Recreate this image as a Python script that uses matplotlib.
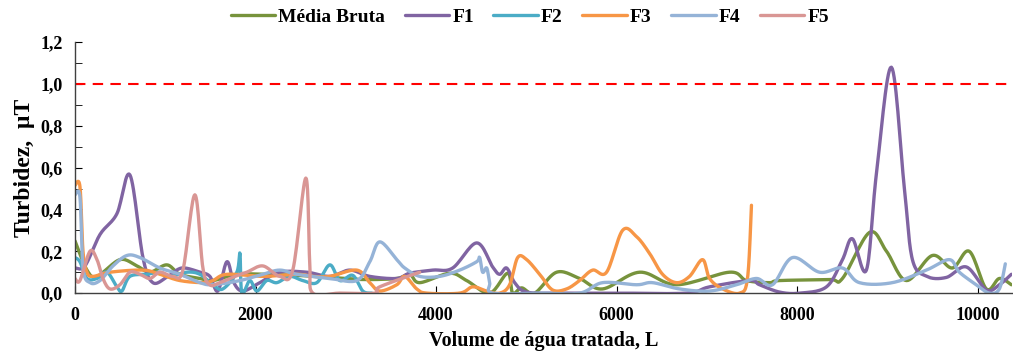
import numpy as np
import matplotlib
matplotlib.use("Agg")
import matplotlib.pyplot as plt
from matplotlib.ticker import MultipleLocator, FuncFormatter

plt.rcParams['font.family'] = ['Liberation Serif', 'DejaVu Serif']
plt.rcParams['font.weight'] = 'bold'

# values (volume in L, turbidity)
bruta_x = [0, 133, 244, 498, 686, 830, 1018, 1162, 1384, 1528, 1793, 2081, 2458, 2823, 3188,
           3565, 3708, 3819, 4151, 4339, 4594, 4793, 4849, 4948, 5092, 5336, 5590, 5845, 6255,
           6664, 7251, 7439, 7694, 7804, 8358, 8502, 8801, 8990, 9210, 9498, 9719, 9907, 10096,
           10240, 10373]
bruta_y = [0.25, 0.11, 0.08, 0.16, 0.13, 0.10, 0.135, 0.09, 0.07, 0.06, 0.09, 0.09, 0.085, 0.075, 0.065,
           0.07, 0.09, 0.05, 0.095, 0.06, 0.0, 0.095, 0.0, 0.025, 0.0, 0.10, 0.07, 0.02, 0.10,
           0.04, 0.10, 0.06, 0.05, 0.06, 0.065, 0.07, 0.29, 0.20, 0.06, 0.18, 0.12, 0.20, 0.02,
           0.07, 0.04]

f1_x = [0, 111, 277, 465, 609, 753, 863, 1030, 1184, 1384, 1494, 1583, 1683, 1760, 1860, 2048,
        2269, 2568, 2823, 3044, 3266, 3565, 3708, 3963, 4184, 4450, 4627, 4705, 4782, 4871, 5004,
        5369, 6033, 6775, 7030, 7472, 7583, 7804, 8026, 8325, 8502, 8612, 8767, 8878, 9044, 9188,
        9277, 9436, 9653, 9875, 10096, 10240, 10373]
f1_y = [0.12, 0.13, 0.28, 0.38, 0.565, 0.17, 0.05, 0.08, 0.12, 0.10, 0.08, 0.01, 0.15, 0.05, 0.01, 0.05,
        0.10, 0.10, 0.08, 0.11, 0.08, 0.07, 0.095, 0.11, 0.12, 0.24, 0.125, 0.09, 0.12, 0.05, 0.005,
        0.0, 0.0, 0.0, 0.03, 0.06, 0.04, 0.005, 0.0, 0.03, 0.16, 0.26, 0.11, 0.57, 1.08, 0.50,
        0.16, 0.08, 0.075, 0.125, 0.015, 0.04, 0.09]

f2_x = [0, 55, 133, 244, 354, 465, 520, 609, 797, 941, 1052, 1240, 1384, 1528, 1638, 1793, 1827,
        1849, 1937, 2015, 2125, 2236, 2380, 2524, 2679, 2823, 2934, 3077, 3188, 3288]
f2_y = [0.17, 0.15, 0.07, 0.07, 0.10, 0.03, 0.01, 0.08, 0.09, 0.10, 0.08, 0.10, 0.09, 0.04, 0.02, 0.10, 0.19,
        0.0, 0.06, 0.01, 0.06, 0.05, 0.08, 0.06, 0.05, 0.135, 0.06, 0.085, 0.01, 0.0]

f3_x = [0, 55, 89, 133, 199, 387, 753, 941, 1162, 1417, 1528, 1683, 2081, 2458, 2635, 2823, 3122,
        3266, 3376, 3565, 3653, 3786, 3897, 4262, 4406, 4561, 4705, 4815, 4904, 5004, 5148, 5291,
        5446, 5590, 5734, 5889, 6066, 6221, 6365, 6509, 6664, 6808, 6952, 7030, 7174, 7362, 7450,
        7494]
f3_y = [0.515, 0.51, 0.20, 0.10, 0.08, 0.10, 0.11, 0.09, 0.06, 0.05, 0.06, 0.09, 0.08, 0.09, 0.08, 0.08, 0.11,
        0.05, 0.01, 0.04, 0.08, 0.02, 0.0, 0.0, 0.03, 0.01, 0.0, 0.04, 0.17, 0.16, 0.09, 0.015,
        0.02, 0.06, 0.11, 0.10, 0.30, 0.27, 0.19, 0.09, 0.05, 0.08, 0.16, 0.07, 0.02, 0.0, 0.07,
        0.42]

f4_x = [0, 55, 89, 166, 277, 421, 576, 720, 941, 1162, 1384, 1528, 1827, 2081, 2269, 2458, 2823,
        3122, 3266, 3376, 3565, 3653, 3819, 4040, 4262, 4450, 4483, 4516, 4561, 4594, 4627, 5148,
        5590, 5845, 6221, 6398, 6697, 7030, 7328, 7550, 7727, 7948, 8247, 8502, 8690, 9055, 9432,
        9686, 9797, 9985, 10129, 10240, 10306]
f4_y = [0.47, 0.46, 0.12, 0.05, 0.06, 0.13, 0.18, 0.17, 0.12, 0.09, 0.05, 0.04, 0.06, 0.09, 0.11, 0.09, 0.07,
        0.06, 0.15, 0.245, 0.16, 0.12, 0.08, 0.08, 0.11, 0.15, 0.17, 0.10, 0.12, 0.05, 0.0, 0.0,
        0.0, 0.05, 0.04, 0.05, 0.02, 0.01, 0.04, 0.07, 0.04, 0.17, 0.10, 0.12, 0.05, 0.05, 0.11,
        0.16, 0.10, 0.04, 0.0, 0.02, 0.14]

f5_x = [0, 55, 166, 244, 310, 387, 498, 609, 720, 830, 941, 1085, 1196, 1328, 1417, 1494, 1605,
        1827, 1904, 2081, 2269, 2413, 2557, 2601, 2635, 2934, 3321, 3376, 3819]
f5_y = [0.07, 0.06, 0.20, 0.16, 0.07, 0.02, 0.04, 0.10, 0.09, 0.07, 0.10, 0.08, 0.11, 0.47, 0.12, 0.04, 0.05,
        0.09, 0.10, 0.13, 0.08, 0.11, 0.55, 0.14, 0.0, 0.0, 0.0, 0.03, 0.10]

series = [
    ('Média Bruta', bruta_x, bruta_y, '#77933C'),
    ('F1', f1_x, f1_y, '#8064A2'),
    ('F2', f2_x, f2_y, '#4BACC6'),
    ('F3', f3_x, f3_y, '#F79646'),
    ('F4', f4_x, f4_y, '#95B3D7'),
    ('F5', f5_x, f5_y, '#D99694'),
]
limite = 1.0


def smooth(xs, ys, n=16):
    # Excel-style smoothed line: bezier through the points (catmull-rom handles)
    p = np.column_stack([xs, ys]).astype(float)
    p = np.vstack([p[0], p, p[-1]])
    t = np.linspace(0, 1, n)[:, None]
    out = []
    for i in range(1, len(p) - 2):
        p0, p1, p2, p3 = p[i - 1], p[i], p[i + 1], p[i + 2]
        c1 = p1 + (p2 - p0) / 6
        c2 = p2 - (p3 - p1) / 6
        seg = ((1 - t) ** 3) * p1 + 3 * ((1 - t) ** 2) * t * c1 + 3 * (1 - t) * t ** 2 * c2 + t ** 3 * p2
        out.append(seg if i == 1 else seg[1:])
    out = np.vstack(out)
    return out[:, 0], out[:, 1]


fig = plt.figure(figsize=(10.13, 3.54), dpi=100)
ax = fig.add_axes([0.074, 0.172, 0.925, 0.709])

for name, xs, ys, col in series:
    sx, sy = smooth(xs, ys)
    ax.plot(sx, sy, color=col, lw=2.4, label=name, solid_capstyle='round')

ax.axhline(limite, color='#FF0000', lw=1.5, ls=(0, (5, 3.5)))

ax.set_xlim(0, 10380)
ax.set_ylim(0, 1.2)
ax.xaxis.set_major_locator(MultipleLocator(2000))
ax.yaxis.set_major_locator(MultipleLocator(0.2))
ax.yaxis.set_minor_locator(MultipleLocator(0.1))
ax.yaxis.set_major_formatter(FuncFormatter(lambda v, p: f'{v:.1f}'.replace('.', ',')))
ax.tick_params(axis='both', which='both', direction='in', labelsize=13, colors='black')
ax.tick_params(axis='y', which='major', length=5, pad=9)
ax.tick_params(axis='y', which='minor', length=5)
ax.tick_params(axis='x', which='major', length=5, pad=10)
for s in ['top', 'right']:
    ax.spines[s].set_visible(False)
for s in ['left', 'bottom']:
    ax.spines[s].set_color('#404040')
    ax.spines[s].set_linewidth(1.0)

ax.set_xlabel('Volume de água tratada, L', fontsize=14.5, fontweight='bold', labelpad=5)
ax.set_ylabel('Turbidez,  µT', fontsize=17, fontweight='bold', labelpad=4)

fig.legend(loc='center', bbox_to_anchor=(0.523, 0.952), ncol=6, frameon=False,
           fontsize=14, handlelength=2.3, columnspacing=1.0, handletextpad=0.15)

fig.savefig('out.png', dpi=100)
